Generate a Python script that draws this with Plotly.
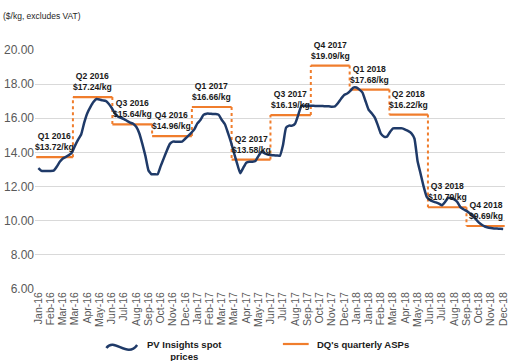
import plotly.graph_objects as go

# ---------------- data ----------------
tick_labels = ["Jan-16", "Feb-16", "Mar-16", "Mar-16", "Apr-16", "May-16", "Jun-16", "Jul-16",
               "Aug-16", "Sep-16", "Oct-16", "Nov-16", "Dec-16",
               "Jan-17", "Feb-17", "Mar-17", "Mar-17", "Apr-17", "May-17", "Jun-17", "Jul-17",
               "Aug-17", "Sep-17", "Oct-17", "Nov-17", "Dec-17",
               "Jan-18", "Jan-18", "Feb-18", "Mar-18", "Apr-18", "May-18", "Jun-18", "Jul-18",
               "Aug-18", "Sep-18", "Oct-18", "Nov-18", "Dec-18"]
weeks_per_label = 4

# PV Insights weekly spot prices ($/kg), week 0 = first week of Jan-16
spot_prices = [
    13.08, 12.92, 12.91, 12.91, 12.91, 12.93, 13.16, 13.45, 13.65, 13.74,
    13.85, 14.00, 14.40, 14.75, 15.05, 15.75, 16.30, 16.65, 16.95, 17.13,
    17.10, 17.05, 17.02, 16.85, 16.60, 16.30, 16.10, 16.03, 15.95, 15.85,
    15.75, 15.68, 15.50, 15.12, 14.50, 13.80, 12.95, 12.72, 12.72, 12.72,
    13.20, 13.65, 14.10, 14.50, 14.63, 14.63, 14.63, 14.63, 14.80, 14.97,
    15.15, 15.35, 15.70, 15.90, 16.20, 16.27, 16.27, 16.25, 16.25, 16.20,
    15.90, 15.65, 15.15, 14.60, 13.95, 13.35, 12.78, 13.10, 13.40, 13.46,
    13.46, 13.50, 13.80, 14.04, 13.95, 13.88, 13.85, 13.83, 13.82, 13.81,
    14.43, 15.45, 15.57, 15.57, 15.70, 16.20, 16.72, 16.73, 16.73, 16.73,
    16.73, 16.72, 16.72, 16.72, 16.70, 16.70, 16.68, 16.70, 16.90, 17.15,
    17.37, 17.45, 17.60, 17.80, 17.80, 17.68, 17.50, 17.00, 16.50, 16.30,
    16.05, 15.60, 15.10, 14.93, 14.92, 15.20, 15.41, 15.41, 15.41, 15.41,
    15.33, 15.25, 15.12, 14.80, 13.50, 12.75, 12.00, 11.40, 11.22, 11.13,
    11.07, 11.00, 10.90, 11.10, 11.34, 11.32, 11.25, 11.10, 10.80, 10.67,
    10.58, 10.45, 10.32, 10.10, 9.90, 9.76, 9.66, 9.60, 9.57, 9.55,
    9.54, 9.53, 9.52]
spot_weeks = list(range(len(spot_prices)))

quarters = ["Q1 2016", "Q2 2016", "Q3 2016", "Q4 2016",
            "Q1 2017", "Q2 2017", "Q3 2017", "Q4 2017",
            "Q1 2018", "Q2 2018", "Q3 2018", "Q4 2018"]
dq_asp = [13.72, 17.24, 15.64, 14.96, 16.66, 13.58, 16.19, 19.09, 17.68, 16.22, 10.79, 9.69]
# quarter boundaries on the weekly axis
quarter_edges = [-0.7, 11.3, 24.2, 37.2, 50.2, 63.2, 75.9, 89.1, 101.8, 114.8, 127.4, 140.0, 152.5]

# ---------------- build ----------------
NAVY = "#1F3A68"
ORANGE = "#F07D2C"
FONT = "Liberation Sans, Arial, sans-serif"

seg_x, seg_y, vx, vy = [], [], [], []
for i, v in enumerate(dq_asp):
    seg_x += [quarter_edges[i], quarter_edges[i + 1], None]
    seg_y += [v, v, None]
    if i + 1 < len(dq_asp):
        vx += [quarter_edges[i + 1], quarter_edges[i + 1], None]
        vy += [v, dq_asp[i + 1], None]

fig = go.Figure()
fig.add_trace(go.Scatter(x=vx, y=vy, mode="lines", showlegend=False, hoverinfo="skip",
                         line=dict(color=ORANGE, width=2, dash="dot")))
fig.add_trace(go.Scatter(x=seg_x, y=seg_y, mode="lines", name="DQ's quarterly ASPs",
                         showlegend=False, line=dict(color=ORANGE, width=2.2)))
fig.add_trace(go.Scatter(x=spot_weeks, y=spot_prices, mode="lines", name="PV Insights spot prices",
                         showlegend=False,
                         line=dict(color=NAVY, width=2.5, shape="spline", smoothing=0.4)))

# quarter labels
for i, (q, v) in enumerate(zip(quarters, dq_asp)):
    mid = (quarter_edges[i] + quarter_edges[i + 1]) / 2
    fig.add_annotation(x=mid, y=v, xref="x", yref="y",
                       text=f"<b>{q}<br>${v:.2f}/kg</b>", showarrow=False,
                       yanchor="bottom", xanchor="center", yshift=3,
                       font=dict(family=FONT, size=8.6, color="#1a1a1a"))

W, H = 510, 361
L, R, T, B = 35, 1, 50, 72
PW, PH = W - L - R, H - T - B


def px2x(p):
    return (p - L) / PW


def px2y(p):
    return (H - B - p) / PH


# title
fig.add_annotation(x=px2x(1), y=px2y(16), xref="paper", yref="paper", text="($/kg, excludes VAT)",
                   showarrow=False, xanchor="left", yanchor="middle",
                   font=dict(family=FONT, size=8.5, color="#262626"))

# custom legend
wave = (f"M {px2x(107)},{px2y(348)} C {px2x(115)},{px2y(337)} "
        f"{px2x(128)},{px2y(359)} {px2x(138)},{px2y(345)}")
fig.add_shape(type="path", path=wave, xref="paper", yref="paper",
              line=dict(color=NAVY, width=2.5))
fig.add_annotation(x=px2x(186), y=px2y(350), xref="paper", yref="paper",
                   text="<b>PV Insights spot<br>prices</b>", showarrow=False, align="center",
                   xanchor="center", yanchor="middle",
                   font=dict(family=FONT, size=9.5, color="#1a1a1a"))
fig.add_shape(type="line", x0=px2x(285), x1=px2x(311), y0=px2y(344), y1=px2y(344),
              xref="paper", yref="paper", line=dict(color=ORANGE, width=2.2))
fig.add_annotation(x=px2x(317), y=px2y(344), xref="paper", yref="paper",
                   text="<b>DQ's quarterly ASPs</b>", showarrow=False,
                   xanchor="left", yanchor="middle",
                   font=dict(family=FONT, size=9.5, color="#1a1a1a"))

fig.update_layout(
    width=W, height=H,
    margin=dict(l=L, r=R, t=T, b=B),
    plot_bgcolor="white", paper_bgcolor="white",
    showlegend=False,
    font=dict(family=FONT),
    xaxis=dict(range=[-1.1, 152.6],
               tickmode="array",
               tickvals=[i * weeks_per_label for i in range(len(tick_labels))],
               ticktext=tick_labels, tickangle=-90,
               ticklabeloverflow="allow",
               tickfont=dict(family=FONT, size=10.5, color="#595959"),
               showgrid=False, zeroline=False, showline=False, ticks=""),
    yaxis=dict(range=[6, 20], dtick=2, tick0=6, tickformat=".2f",
               gridcolor="#D9D9D9", gridwidth=1, zeroline=False, showline=False,
               tickfont=dict(family=FONT, size=12, color="#595959"), ticks=""),
)

fig.write_html("out.html", config={"displayModeBar": False},
               post_script="document.body.style.margin='0';document.body.style.overflow='hidden';")
